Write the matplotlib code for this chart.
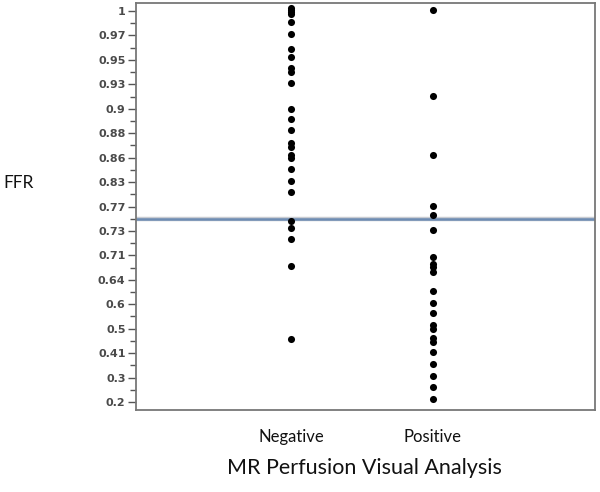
import numpy as np
import matplotlib
matplotlib.use("Agg")
import matplotlib.pyplot as plt
from matplotlib.ticker import FixedLocator

# ---- data ----
categories = ["Negative", "Positive"]
ffr_negative = [1.004, 1.001, 0.999, 0.996, 0.987, 0.972, 0.959, 0.952, 0.943, 0.940,
                0.931, 0.900, 0.892, 0.883, 0.872, 0.869, 0.862, 0.860, 0.846, 0.831,
                0.806, 0.746, 0.735, 0.723, 0.680, 0.463]
ffr_positive = [1.001, 0.916, 0.862, 0.772, 0.756, 0.732, 0.706, 0.686, 0.677, 0.663,
                0.622, 0.602, 0.565, 0.516, 0.500, 0.466, 0.452, 0.415, 0.362, 0.308,
                0.262, 0.213]
threshold = 0.75
tick_values = [0.2, 0.3, 0.41, 0.5, 0.6, 0.64, 0.71, 0.73, 0.77, 0.83, 0.86, 0.88,
               0.9, 0.93, 0.95, 0.97, 1.0]
tick_labels = ["0.2", "0.3", "0.41", "0.5", "0.6", "0.64", "0.71", "0.73", "0.77",
               "0.83", "0.86", "0.88", "0.9", "0.93", "0.95", "0.97", "1"]

# ---- ordinal-like axis scale (equal spacing between labelled values) ----
vals = np.array(tick_values, float)
pos = np.arange(len(vals), dtype=float)


def _pw(x, xp, fp):
    x = np.asarray(x, float)
    out = np.interp(x, xp, fp)
    s_lo = (fp[1] - fp[0]) / (xp[1] - xp[0])
    s_hi = (fp[-1] - fp[-2]) / (xp[-1] - xp[-2])
    out = np.where(x < xp[0], fp[0] + (x - xp[0]) * s_lo, out)
    out = np.where(x > xp[-1], fp[-1] + (x - xp[-1]) * s_hi, out)
    return out


def forward(v):
    return _pw(v, vals, pos)


def inverse(p):
    return _pw(p, pos, vals)


fig = plt.figure(figsize=(6.0, 4.92), dpi=100)
ax = fig.add_axes([136 / 600, 1 - 410 / 492, (595 - 136) / 600, (410 - 3) / 492])
ax.set_yscale("function", functions=(forward, inverse))

x_neg = np.zeros(len(ffr_negative))
x_pos = np.ones(len(ffr_positive))
ax.scatter(x_neg, ffr_negative, s=26, color="black", zorder=3, linewidths=0)
ax.scatter(x_pos, ffr_positive, s=26, color="black", zorder=3, linewidths=0)
ax.axhline(threshold, color="#c9ccd2", lw=3.2, zorder=2)
ax.axhline(threshold, color="#6d8cb3", lw=1.8, zorder=2)

ax.set_xlim(-1.0915, 2.141)
ax.set_ylim(float(inverse(-0.33)), float(inverse(16.33)))

ax.yaxis.set_major_locator(FixedLocator(tick_values))
ax.set_yticklabels(tick_labels, fontweight="bold")
ax.yaxis.set_minor_locator(FixedLocator(list(inverse(pos[:-1] + 0.5))))
ax.tick_params(axis="y", which="major", length=6, width=1.0, color="#555555",
               labelsize=8, labelcolor="#4a4a4a", pad=1.5)
ax.tick_params(axis="y", which="minor", length=4.5, width=1.0, color="#555555")

ax.set_xticks([0, 1])
ax.set_xticklabels(categories, fontfamily="Lato", fontsize=12)
ax.tick_params(axis="x", length=0, pad=14, labelcolor="#111111")

for sp in ax.spines.values():
    sp.set_color("#777777")
    sp.set_linewidth(1.3)

fig.text(3 / 600, 1 - 183 / 492, "FFR", ha="left", va="center",
         fontfamily="Lato", fontsize=12.5, color="#111111")
fig.text(364 / 600, 1 - 468 / 492, "MR Perfusion Visual Analysis", ha="center",
         va="center", fontfamily="Lato", fontsize=15.5, color="#111111")

fig.savefig("out.png", dpi=100)
